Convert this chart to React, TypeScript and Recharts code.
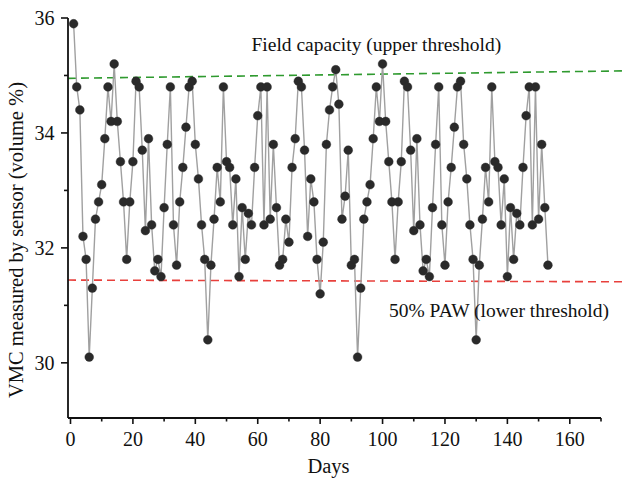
import React from 'react';
import { LineChart, Line, XAxis, YAxis, ReferenceLine, ReferenceDot } from 'recharts';

const FONT = '"Liberation Serif", "Times New Roman", Times, serif';

const days = [
  1, 2, 3, 4, 5, 6, 7, 8, 9, 10, 11, 12, 13, 14, 15, 16, 17, 18, 19, 20,
  21, 22, 23, 24, 25, 26, 27, 28, 29, 30, 31, 32, 33, 34, 35, 36, 37, 38, 39, 40,
  41, 42, 43, 44, 45, 46, 47, 48, 49, 50, 51, 52, 53, 54, 55, 56, 57, 58, 59, 60,
  61, 62, 63, 64, 65, 66, 67, 68, 69, 70, 71, 72, 73, 74, 75, 76, 77, 78, 79, 80,
  81, 82, 83, 84, 85, 86, 87, 88, 89, 90, 91, 92, 93, 94, 95, 96, 97, 98, 99, 100,
  101, 102, 103, 104, 105, 106, 107, 108, 109, 110, 111, 112, 113, 114, 115, 116, 117, 118, 119, 120,
  121, 122, 123, 124, 125, 126, 127, 128, 129, 130, 131, 132, 133, 134, 135, 136, 137, 138, 139, 140,
  141, 142, 143, 144, 145, 146, 147, 148, 149, 150, 151, 152, 153,
];

const vmc = [
  35.9, 34.8, 34.4, 32.2, 31.8, 30.1, 31.3, 32.5, 32.8, 33.1, 33.9, 34.8, 34.2, 35.2, 34.2, 33.5, 32.8, 31.8, 32.8, 33.5,
  34.9, 34.8, 33.7, 32.3, 33.9, 32.4, 31.6, 31.8, 31.5, 32.7, 33.8, 34.8, 32.4, 31.7, 32.8, 33.4, 34.1, 34.8, 34.9, 33.8,
  33.2, 32.4, 31.8, 30.4, 31.7, 32.5, 33.4, 32.8, 34.8, 33.5, 33.4, 32.4, 33.2, 31.5, 32.7, 31.8, 32.6, 32.4, 33.4, 34.3,
  34.8, 32.4, 34.8, 32.5, 33.8, 32.7, 31.7, 31.8, 32.5, 32.1, 33.4, 33.9, 34.9, 34.8, 33.7, 32.2, 33.2, 32.8, 31.8, 31.2,
  32.1, 33.8, 34.4, 34.8, 35.1, 34.5, 32.5, 32.9, 33.7, 31.7, 31.8, 30.1, 31.3, 32.5, 32.8, 33.1, 33.9, 34.8, 34.2, 35.2,
  34.2, 33.5, 32.8, 31.8, 32.8, 33.5, 34.9, 34.8, 33.7, 32.3, 33.9, 32.4, 31.6, 31.8, 31.5, 32.7, 33.8, 34.8, 32.4, 31.7,
  32.8, 33.4, 34.1, 34.8, 34.9, 33.8, 33.2, 32.4, 31.8, 30.4, 31.7, 32.5, 33.4, 32.8, 34.8, 33.5, 33.4, 32.4, 33.2, 31.5,
  32.7, 31.8, 32.6, 32.4, 33.4, 34.3, 34.8, 32.4, 34.8, 32.5, 33.8, 32.7, 31.7,
];

const xTicks = [0, 10, 20, 30, 40, 50, 60, 70, 80, 90, 100, 110, 120, 130, 140, 150, 160, 170];
const yTicks = [30, 31, 32, 33, 34, 35, 36];
const xDomain = [-0.8, 170];
const yDomain = [29.04, 36];

// threshold lines (day, VMC) at their two ends
const fieldCapacityDays = [-0.8, 177.7];
const fieldCapacityValues = [34.95, 35.08];
const pawDays = [-0.8, 177.7];
const pawValues = [31.44, 31.41];

const annotationTexts = ['Field capacity (upper threshold)', '50% PAW (lower threshold)'];
const annotationDays = [98, 137.3];
const annotationValues = [35.42, 30.8];

const data = days.map((d, i) => ({ day: d, vmc: vmc[i] }));

function XTick(props: any) {
  const { x, y, payload } = props;
  const major = payload.value % 20 === 0;
  return (
    <g>
      <line x1={x} x2={x} y1={y} y2={y + (major ? 6 : 3.5)} stroke="#111" strokeWidth={1.6} />
      {major && (
        <text x={x} y={y + 28} textAnchor="middle" fontSize={20} fontFamily={FONT} fill="#111">
          {payload.value}
        </text>
      )}
    </g>
  );
}

function YTick(props: any) {
  const { x, y, payload } = props;
  const major = payload.value % 2 === 0;
  return (
    <g>
      <line x1={x - (major ? 7 : 4)} x2={x} y1={y} y2={y} stroke="#111" strokeWidth={1.6} />
      {major && (
        <text x={x - 13.5} y={y + 7} textAnchor="end" fontSize={20} fontFamily={FONT} fill="#111">
          {payload.value}
        </text>
      )}
    </g>
  );
}

const annotation = (text: string) => (props: any) => {
  const vb = props.viewBox || {};
  const cx = (vb.x || 0) + (vb.width || 0) / 2;
  const cy = (vb.y || 0) + (vb.height || 0) / 2;
  return (
    <text x={cx} y={cy} textAnchor="middle" fontSize={19.5} fontFamily={FONT} fill="#111">
      {text}
    </text>
  );
};

export default function App() {
  return (
    <div style={{ position: 'absolute', left: 0, top: 0, width: 625, height: 482, background: '#fff' }}>
      <LineChart width={625} height={482} data={data} margin={{ top: 18, right: 24, bottom: 0, left: 0 }}>
        <XAxis
          dataKey="day"
          type="number"
          domain={xDomain}
          ticks={xTicks}
          interval={0}
          allowDataOverflow
          height={64}
          tickSize={0}
          tickMargin={0}
          tickLine={false}
          tick={<XTick />}
          axisLine={{ stroke: '#111', strokeWidth: 1.8 }}
          label={{
            content: (p: any) => {
              const vb = p.viewBox;
              return (
                <text x={vb.x + vb.width / 2 - 6} y={vb.y + 55} textAnchor="middle" fontSize={20.5} fontFamily={FONT} fill="#111">
                  Days
                </text>
              );
            },
          }}
        />
        <YAxis
          type="number"
          domain={yDomain}
          ticks={yTicks}
          interval={0}
          allowDataOverflow
          width={68}
          tickSize={0}
          tickMargin={0}
          tickLine={false}
          tick={<YTick />}
          axisLine={{ stroke: '#111', strokeWidth: 1.8 }}
          label={{
            content: (p: any) => {
              const vb = p.viewBox;
              const lx = vb.x + 23;
              const ly = 240;
              return (
                <text x={lx} y={ly} transform={`rotate(-90, ${lx}, ${ly})`} textAnchor="middle" fontSize={20.5} fontFamily={FONT} fill="#111">
                  VMC measured by sensor (volume %)
                </text>
              );
            },
          }}
        />
        <ReferenceLine
          segment={[
            { x: fieldCapacityDays[0], y: fieldCapacityValues[0] },
            { x: fieldCapacityDays[1], y: fieldCapacityValues[1] },
          ]}
          stroke="#2f9a2f"
          strokeWidth={1.6}
          strokeDasharray="8 5"
          ifOverflow="visible"
        />
        <ReferenceLine
          segment={[
            { x: pawDays[0], y: pawValues[0] },
            { x: pawDays[1], y: pawValues[1] },
          ]}
          stroke="#e8403c"
          strokeWidth={1.6}
          strokeDasharray="8 5"
          ifOverflow="visible"
        />
        <Line
          dataKey="vmc"
          stroke="#a0a0a0"
          strokeWidth={1.4}
          dot={{ r: 4.4, fill: '#2a2a2a', stroke: '#2a2a2a', strokeWidth: 0.4 }}
          activeDot={false}
          isAnimationActive={false}
        />
        {annotationTexts.map((t, i) => (
          <ReferenceDot
            key={t}
            x={annotationDays[i]}
            y={annotationValues[i]}
            r={0}
            fill="none"
            stroke="none"
            ifOverflow="visible"
            label={{ content: annotation(t) }}
          />
        ))}
      </LineChart>
    </div>
  );
}
